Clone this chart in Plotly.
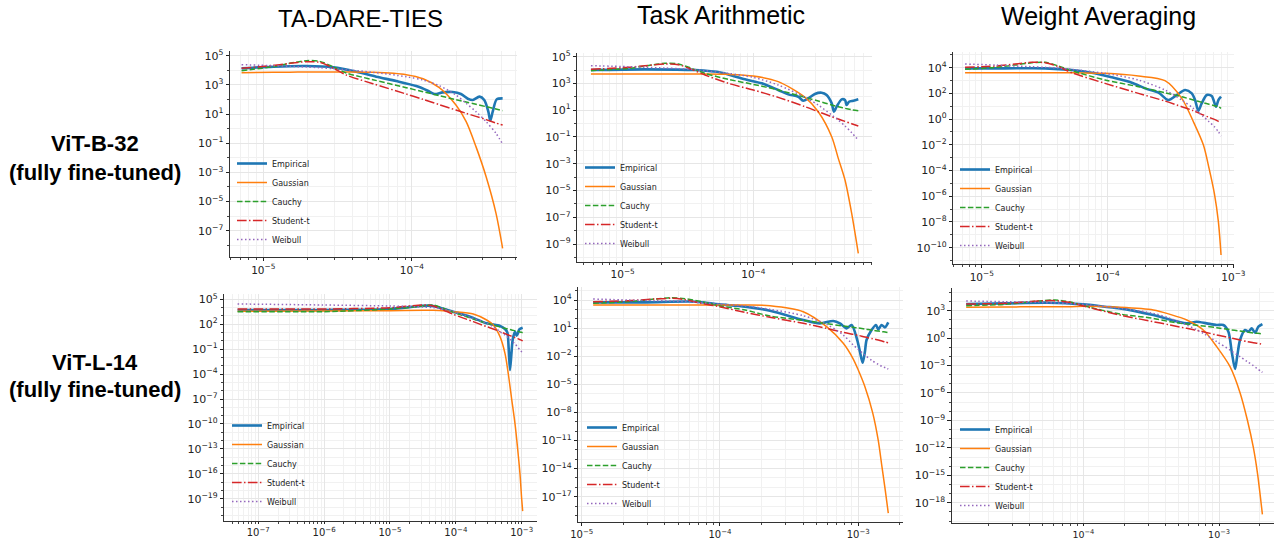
import math
import plotly.graph_objects as go

W, H = 1274, 539

series_names = ["Empirical", "Gaussian", "Cauchy", "Student-t", "Weibull"]
col_titles = ["TA-DARE-TIES", "Task Arithmetic", "Weight Averaging"]
row_titles = ["ViT-B-32", "ViT-L-14"]
row_sub = "(fully fine-tuned)"

# ---------------- Panel 1: TA-DARE-TIES / ViT-B-32 ----------------
p1_x = [7.15e-6, 1.17e-5, 1.51e-5, 1.95e-5, 2.40e-5, 2.95e-5, 3.62e-5, 5.47e-5, 9.16e-5,
        1.19e-4, 1.53e-4, 1.98e-4, 2.32e-4, 2.70e-4, 3.16e-4, 3.68e-4, 4.08e-4]
p1_gauss = [6.8e3, 7.2e3, 7.4e3, 7.6e3, 7.6e3, 7.6e3, 7.6e3, 7.2e3, 5.0e3,
            2.6e3, 6.4e2, 41, 3.0, 5.8e-2, 5.0e-4, 1.6e-6, 6.2e-9]
p1_cauchy = [9.4e3, 1.76e4, 2.98e4, 4.54e4, 4.08e4, 1.76e4, 6.5e3, 2.26e3, 6.4e2,
             3.4e2, 1.81e2, 96, 66, 46, 32, 22, 17]
p1_student = [1.35e4, 2.17e4, 2.98e4, 3.88e4, 3.49e4, 1.43e4, 4.72e3, 1.2e3, 235,
              101, 43.7, 18.8, 11.1, 6.9, 4.1, 2.4, 1.76]
p1_weibull = [2.42e4, 2.06e4, 1.86e4, 1.67e4, 1.5e4, 1.28e4, 1.1e4, 7.2e3, 3.63e3,
              2.14e3, 877, 201, 53.8, 14.5, 2.98, 0.472, 8.8e-2]
p1_emp_x = [7.15e-6, 1.17e-5, 1.95e-5, 2.95e-5, 4.23e-5, 5.76e-5, 7.85e-5, 1.07e-4, 1.28e-4,
            1.42e-4, 1.61e-4, 1.88e-4, 2.14e-4, 2.38e-4, 2.57e-4, 2.85e-4, 3.07e-4, 3.27e-4,
            3.37e-4, 3.50e-4, 3.72e-4, 4.08e-4]
p1_emp = [1.35e4, 1.76e4, 1.95e4, 1.58e4, 8.0e3, 3.63e3, 1.83e3, 832, 398,
          235, 306, 323, 235, 112, 91, 155, 91, 14.5,
          3.5, 14.5, 101, 119]

# ---------------- Panel 2: Task Arithmetic / ViT-B-32 ----------------
p2_x = [5.72e-6, 1.105e-5, 1.48e-5, 2.11e-5, 2.67e-5, 3.37e-5, 4.27e-5, 6.44e-5, 1.0e-4,
        1.55e-4, 2.49e-4, 3.14e-4, 3.98e-4, 4.47e-4, 5.03e-4, 5.66e-4, 6.36e-4]
p2_gauss = [5.07e3, 5.07e3, 5.07e3, 5.07e3, 5.07e3, 5.07e3, 5.07e3, 4.78e3, 3.59e3,
            1.36e3, 91, 7.7, 0.105, 2.52e-3, 6.06e-5, 1.95e-7, 2.0e-10]
p2_cauchy = [8.99e3, 1.34e4, 2.0e4, 3.18e4, 2.83e4, 1.34e4, 5.68e3, 2.02e3, 855,
             323, 91, 48.6, 24.4, 18.3, 13.8, 10.9, 9.2]
p2_student = [1.13e4, 1.6e4, 2.12e4, 2.83e4, 2.52e4, 1.13e4, 4.27e3, 1.02e3, 323,
              91, 18.3, 7.7, 3.28, 2.19, 1.47, 0.98, 0.658]
p2_weibull = [2.12e4, 1.79e4, 1.6e4, 1.42e4, 1.27e4, 1.13e4, 8.99e3, 5.68e3, 2.85e3,
              762, 91, 24.4, 4.36, 1.85, 0.658, 0.21, 5.9e-2]
p2_emp_x = [5.72e-6, 1.48e-5, 3.58e-5, 5.72e-5, 8.63e-5, 1.16e-4, 1.55e-4, 1.85e-4, 2.21e-4,
            2.41e-4, 2.64e-4, 2.96e-4, 3.33e-4, 3.64e-4, 3.98e-4, 4.14e-4, 4.34e-4, 4.74e-4,
            5.03e-4, 5.18e-4, 5.40e-4, 5.83e-4, 6.36e-4]
p2_emp = [1.0e4, 1.13e4, 1.0e4, 6.37e3, 2.02e3, 1.02e3, 323, 153, 102,
          51, 77, 162, 204, 136, 32.5, 7.7, 18.3, 65,
          58, 24.4, 43, 51, 65]

# ---------------- Panel 3: Weight Averaging / ViT-B-32 ----------------
p3_x = [7.37e-6, 1.28e-5, 1.84e-5, 2.50e-5, 3.19e-5, 4.07e-5, 5.19e-5, 9.55e-5, 1.76e-4,
        2.86e-4, 3.89e-4, 4.81e-4, 5.78e-4, 6.41e-4, 7.06e-4, 7.60e-4, 7.98e-4]
p3_gauss = [4.09e3, 4.09e3, 4.09e3, 4.09e3, 4.09e3, 4.09e3, 4.09e3, 3.62e3, 2.25e3,
            975, 41.2, 0.63, 9.66e-3, 1.48e-4, 1.68e-6, 1.05e-8, 2.69e-11]
p3_cauchy = [7.42e3, 1.06e4, 1.61e4, 2.45e4, 2.6e4, 1.35e4, 5.85e3, 1.1e3, 333,
             114, 55.5, 30.5, 19, 14.1, 11.1, 9.26, 6.87]
p3_student = [1.06e4, 1.35e4, 1.93e4, 2.6e4, 2.45e4, 1.2e4, 4.09e3, 604, 101,
              25.5, 9.26, 4.52, 2.08, 1.37, 0.957, 0.67, 0.527]
p3_weibull = [1.93e4, 1.61e4, 1.35e4, 1.2e4, 1.06e4, 9.42e3, 7.42e3, 3.62e3, 1.1e3,
              183, 30.5, 6.87, 1.55, 0.63, 0.258, 0.105, 4.84e-2]
p3_emp_x = [7.37e-6, 1.53e-5, 3.19e-5, 5.19e-5, 7.48e-5, 1.08e-4, 1.56e-4, 1.99e-4, 2.54e-4,
            3.04e-4, 3.55e-4, 4.13e-4, 4.67e-4, 4.96e-4, 5.27e-4, 5.60e-4, 6.14e-4, 6.73e-4,
            7.28e-4, 7.60e-4, 7.98e-4]
p3_emp = [8.87e3, 8.87e3, 8.87e3, 6.59e3, 4.09e3, 1.77e3, 681, 247, 114,
          30.5, 74.8, 183, 101, 30.5, 4.52, 16.8, 74.8, 62.5,
          9.26, 30.5, 55.5]

# ---------------- Panel 4: TA-DARE-TIES / ViT-L-14 ----------------
p4_x = [4.85e-8, 9.71e-7, 1.0e-5, 3.21e-5, 4.55e-5, 6.46e-5, 9.16e-5, 1.84e-4, 2.94e-4,
        3.71e-4, 4.69e-4, 5.58e-4, 6.27e-4, 7.05e-4, 7.92e-4, 8.69e-4, 9.43e-4, 1.0e-3, 1.036e-3]
p4_gauss = [3.59e3, 3.94e3, 4.33e3, 4.74e3, 4.74e3, 4.33e3, 3.27e3, 1.71e3, 325,
            81.3, 3.2, 3.16e-2, 1.03e-4, 1.0e-7, 1.08e-10, 1.05e-13, 1.03e-16, 1.0e-19, 3.3e-21]
p4_cauchy = [3.27e3, 3.27e3, 6.86e3, 1.57e4, 2.08e4, 8.26e3, 2.72e3, 429, 129,
             81.3, 46.7, 32.3, 26.9, 20.3, 16.9, 14.1, 11.7, 10.6, 9.7]
p4_student = [6.86e3, 6.86e3, 9.93e3, 2.08e4, 1.57e4, 5.2e3, 1.56e3, 205, 51.3,
              26.9, 12.8, 7.36, 5.08, 3.52, 2.43, 1.84, 1.4, 1.16, 0.964]
p4_weibull = [2.74e4, 2.08e4, 1.57e4, 1.19e4, 9.93e3, 6.86e3, 3.27e3, 516, 129,
              51.3, 12.8, 5.08, 2.43, 1.06, 0.42, 0.183, 7.94e-2, 4.57e-2, 3.16e-2]
p4_emp_x = [4.85e-8, 9.71e-7, 1.0e-5, 2.86e-5, 4.05e-5, 5.75e-5, 9.16e-5, 1.64e-4, 2.94e-4,
            4.69e-4, 5.58e-4, 6.06e-4, 6.35e-4, 6.65e-4, 6.97e-4, 7.30e-4, 7.92e-4, 8.39e-4,
            8.79e-4, 9.22e-4, 1.036e-3]
p4_emp = [5.2e3, 5.2e3, 6.86e3, 1.57e4, 1.73e4, 9.93e3, 3.27e3, 819, 129,
          61.7, 26.9, 10.6, 0.126, 3.11e-4, 1.99e-2, 1.27, 12.8, 4.23,
          8.07, 24.5, 38.8]

# ---------------- Panel 5: Task Arithmetic / ViT-L-14 ----------------
p5_x = [1.21e-5, 2.18e-5, 3.39e-5, 4.47e-5, 5.58e-5, 7.37e-5, 9.83e-5, 1.52e-4, 2.30e-4,
        4.0e-4, 5.9e-4, 7.79e-4, 9.2e-4, 1.0e-3, 1.117e-3, 1.269e-3, 1.395e-3, 1.483e-3,
        1.567e-3, 1.648e-3]
p5_gauss = [2.93e3, 2.93e3, 2.93e3, 2.93e3, 2.93e3, 2.93e3, 2.93e3, 2.93e3, 2.48e3,
            568, 14.2, 0.237, 5.02e-3, 3.36e-4, 5.58e-6, 1.02e-8, 1.04e-11, 1.61e-14,
            5.19e-17, 1.82e-19]
p5_cauchy = [4.41e3, 6.64e3, 1.28e4, 1.77e4, 1.39e4, 6.64e3, 2.48e3, 855, 196,
             67.5, 29.7, 16.7, 12.1, 10.3, 8.02, 5.78, 4.9, 4.16, 3.84, 3.25]
p5_student = [6.64e3, 8.49e3, 1.28e4, 1.51e4, 1.09e4, 4.41e3, 1.94e3, 482, 141,
              32.3, 9.44, 3.53, 2.16, 1.69, 1.12, 0.745, 0.537, 0.42, 0.328, 0.279]
p5_weibull = [1.28e4, 1.0e4, 8.49e3, 7.82e3, 6.64e3, 5.19e3, 3.74e3, 2.29e3, 1.01e3,
              212, 25.2, 1.83, 0.157, 5.41e-2, 1.34e-2, 3.08e-3, 1.36e-3, 8.28e-4,
              5.97e-4, 4.3e-4]
p5_emp_x = [1.21e-5, 2.87e-5, 6.6e-5, 9.83e-5, 1.52e-4, 2.30e-4, 4.0e-4, 5.28e-4, 6.6e-4,
            7.37e-4, 8.23e-4, 8.95e-4, 9.83e-4, 1.028e-3, 1.075e-3, 1.117e-3, 1.148e-3,
            1.248e-3, 1.342e-3, 1.395e-3, 1.475e-3, 1.559e-3, 1.648e-3]
p5_emp = [5.64e3, 5.64e3, 6.64e3, 3.44e3, 1.94e3, 726, 73.3, 32.3, 57.3,
          32.3, 9.44, 21.4, 0.537, 3.05e-2, 2.04e-3, 3.05e-2, 0.537,
          6.27, 21.4, 7.38, 21.4, 12.1, 41.3]

# ---------------- Panel 6: Weight Averaging / ViT-L-14 ----------------
p6_x = [1.37e-5, 2.65e-5, 4.66e-5, 6.18e-5, 8.2e-5, 1.0e-4, 1.86e-4, 3.28e-4, 4.35e-4,
        5.78e-4, 7.66e-4, 9.61e-4, 1.205e-3, 1.428e-3, 1.617e-3, 1.791e-3, 1.928e-3,
        2.04e-3, 2.087e-3]
p6_gauss = [2.32e3, 2.52e3, 2.74e3, 2.74e3, 2.74e3, 2.98e3, 2.32e3, 1.18e3, 397,
            95.2, 7.69, 0.116, 7.5e-4, 1.08e-6, 1.1e-9, 1.04e-12, 1.06e-15, 1.0e-18, 5.3e-20]
p6_cauchy = [3.52e3, 4.93e3, 1.14e4, 1.47e4, 8.15e3, 3.52e3, 432, 145, 62.6,
             34.8, 21.0, 13.8, 8.36, 5.97, 4.64, 3.61, 3.32, 3.05, 2.81]
p6_student = [5.36e3, 6.34e3, 1.14e4, 1.24e4, 7.49e3, 3.24e3, 336, 62.6, 27.1,
              11.7, 5.05, 2.18, 1.11, 0.619, 0.407, 0.316, 0.267, 0.226, 0.208]
p6_weibull = [1.14e4, 9.64e3, 8.15e3, 6.9e3, 5.83e3, 4.93e3, 1.8e3, 511, 145,
              27.1, 3.32, 0.407, 4.99e-2, 9.31e-3, 2.64e-3, 9.66e-4, 4.17e-4, 2.32e-4, 1.8e-4]
p6_emp_x = [1.37e-5, 2.65e-5, 5.52e-5, 1.0e-4, 1.44e-4, 1.86e-4, 3.28e-4, 5.78e-4, 6.84e-4,
            8.11e-4, 9.61e-4, 1.076e-3, 1.172e-3, 1.24e-3, 1.312e-3, 1.365e-3, 1.428e-3,
            1.554e-3, 1.645e-3, 1.741e-3, 1.842e-3, 1.95e-3, 2.087e-3]
p6_emp = [5.36e3, 6.34e3, 7.49e3, 4.93e3, 2.74e3, 1.8e3, 336, 41.2, 62.6,
          41.2, 27.1, 27.1, 5.05, 3.28e-2, 4.17e-4, 1.42e-2, 0.619,
          7.69, 5.05, 11.7, 3.93, 17.8, 34.8]

panels = [
    (p1_emp_x, p1_emp, p1_x, [p1_gauss, p1_cauchy, p1_student, p1_weibull]),
    (p2_emp_x, p2_emp, p2_x, [p2_gauss, p2_cauchy, p2_student, p2_weibull]),
    (p3_emp_x, p3_emp, p3_x, [p3_gauss, p3_cauchy, p3_student, p3_weibull]),
    (p4_emp_x, p4_emp, p4_x, [p4_gauss, p4_cauchy, p4_student, p4_weibull]),
    (p5_emp_x, p5_emp, p5_x, [p5_gauss, p5_cauchy, p5_student, p5_weibull]),
    (p6_emp_x, p6_emp, p6_x, [p6_gauss, p6_cauchy, p6_student, p6_weibull]),
]

# ---------------- geometry (pixels) ----------------
geom = [
    dict(l=230, r=517, t=51, b=257, xr=[-5.2235, -3.2926], yr=[-8.807, 5.322], ydt=2, y0=1, leg=(232, 254), xfs=10.5, xtl=3),
    dict(l=577.3, r=871.7, t=53.2, b=261.7, xr=[-5.347, -3.094], yr=[-10.32, 5.26], ydt=2, y0=1, leg=(580, 258), xfs=10.5, xtl=3),
    dict(l=953.3, r=1234, t=52, b=264, xr=[-5.226, -2.995], yr=[-11.27, 5.221], ydt=2, y0=0, leg=(955, 260), xfs=10.5, xtl=3),
    dict(l=224.3, r=536.8, t=293.5, b=520.7, xr=[-7.516, -2.77], yr=[-21.64, 5.70], ydt=3, y0=2, leg=(227, 516), xfs=10, xtl=2.5),
    dict(l=578.3, r=902.8, t=286.9, b=522.3, xr=[-5.0246, -2.678], yr=[-19.73, 5.4], ydt=3, y0=1, leg=(582, 518), xfs=10, xtl=2.5),
    dict(l=951.7, r=1274, t=288, b=523.3, xr=[-4.97, -2.595], yr=[-20.25, 5.48], ydt=3, y0=0, leg=(955, 520), xfs=9.5, xtl=2),
]

styles = [
    dict(color="#1f77b4", width=2.6, dash="solid"),
    dict(color="#ff7f0e", width=1.5, dash="solid"),
    dict(color="#2ca02c", width=1.5, dash="5.5px,2.4px"),
    dict(color="#d62728", width=1.5, dash="9.6px,2.4px,1.5px,2.4px"),
    dict(color="#9467bd", width=1.5, dash="1.5px,2.5px"),
]


def pow_label(e):
    s = str(e).replace("-", "\u2212")
    return f"10<sup>{s}</sup>"


def log_ticks(lo, hi, step, start):
    exps = [e for e in range(math.ceil(lo), math.floor(hi) + 1) if (e - start) % step == 0]
    return [10.0 ** e for e in exps], [pow_label(e) for e in exps]


fig = go.Figure()
ytick_font = dict(family="DejaVu Sans", size=11, color="#222")
layout_upd = {}

for i, ((ex, ey, mx, models), g) in enumerate(zip(panels, geom)):
    k = i + 1
    xs = "x" if k == 1 else f"x{k}"
    ys = "y" if k == 1 else f"y{k}"
    lg = "legend" if k == 1 else f"legend{k}"
    curves = [(ex, ey)] + [(mx, m) for m in models]
    for name, (xx, yy), st in zip(series_names, curves, styles):
        fig.add_trace(go.Scatter(
            x=xx, y=yy, mode="lines", name=name,
            line=dict(color=st["color"], width=st["width"], dash=st["dash"],
                      shape="spline", smoothing=0.8),
            xaxis=xs, yaxis=ys, legend=lg, showlegend=True, hoverinfo="skip"))

    common = dict(type="log", ticks="outside", tickwidth=0.8, tickcolor="#222",
                  showline=True, linecolor="#333", linewidth=0.9, mirror=False,
                  showgrid=True, gridcolor="#e6e6e6", gridwidth=0.8,
                  zeroline=False, automargin=False)
    xname = "xaxis" if k == 1 else f"xaxis{k}"
    yname = "yaxis" if k == 1 else f"yaxis{k}"
    xtv, xtt = log_ticks(g["xr"][0], g["xr"][1], 1, 0)
    ytv, ytt = log_ticks(g["yr"][0], g["yr"][1], g["ydt"], g["y0"])
    layout_upd[xname] = dict(common, domain=[g["l"] / W, g["r"] / W], range=g["xr"],
                             anchor=ys, tickmode="array", tickvals=xtv, ticktext=xtt,
                             ticklen=g["xtl"],
                             tickfont=dict(family="DejaVu Sans", size=g["xfs"], color="#222"),
                             minor=dict(dtick="D1", ticks="outside", ticklen=2, tickwidth=0.6,
                                        tickcolor="#444", showgrid=True, gridcolor="#f1f1f1",
                                        gridwidth=0.6))
    layout_upd[yname] = dict(common, domain=[1 - g["b"] / H, 1 - g["t"] / H], range=g["yr"],
                             anchor=xs, tickmode="array", tickvals=ytv, ticktext=ytt,
                             ticklen=3.5, tickfont=ytick_font,
                             minor=dict(dtick=1, ticks="outside", ticklen=2, tickwidth=0.6,
                                        tickcolor="#444", showgrid=True, gridcolor="#f1f1f1",
                                        gridwidth=0.6))
    layout_upd[lg] = dict(x=g["leg"][0] / W, y=1 - g["leg"][1] / H, xanchor="left", yanchor="bottom",
                          xref="paper", yref="paper",
                          bgcolor="rgba(0,0,0,0)", borderwidth=0, itemwidth=30,
                          font=dict(family="DejaVu Sans", size=8, color="#222"))

annotations = []
title_pos = [(360, 18, 24), (721, 15, 25), (1098, 16, 25)]
for txt, (cx, cy, fs) in zip(col_titles, title_pos):
    annotations.append(dict(text=txt, x=cx / W, y=1 - cy / H, xref="paper", yref="paper",
                            xanchor="center", yanchor="middle", showarrow=False,
                            font=dict(family="Liberation Sans", size=fs, color="#000")))
row_pos = [(95, 143, 173), (95, 362, 389)]
for txt, (cx, cy1, cy2) in zip(row_titles, row_pos):
    annotations.append(dict(text=txt, x=cx / W, y=1 - cy1 / H, xref="paper", yref="paper",
                            xanchor="center", yanchor="middle", showarrow=False,
                            font=dict(family="Liberation Sans", size=22, color="#000", weight="bold")))
    annotations.append(dict(text=row_sub, x=cx / W, y=1 - cy2 / H, xref="paper", yref="paper",
                            xanchor="center", yanchor="middle", showarrow=False,
                            font=dict(family="Liberation Sans", size=22, color="#000", weight="bold")))

fig.update_layout(
    width=W, height=H, margin=dict(l=0, r=0, t=0, b=0),
    paper_bgcolor="white", plot_bgcolor="white",
    annotations=annotations, hovermode=False,
    **layout_upd,
)

fig.write_html("out.html", config={"displayModeBar": False})
